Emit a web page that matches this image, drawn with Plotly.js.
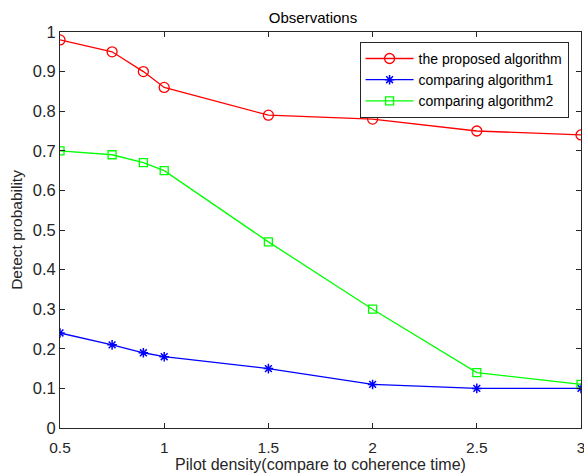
<!DOCTYPE html>
<html>
<head>
<meta charset="utf-8">
<script src="https://cdn.plot.ly/plotly-3.0.1.min.js"></script>
<style>html,body{margin:0;padding:0;background:#fff;}#chart{width:584px;height:473px;}</style>
</head>
<body>
<div id="chart"></div>
<script>
const pilotDensity = [0.5, 0.75, 0.9, 1, 1.5, 2, 2.5, 3];
const proposed = [0.98, 0.95, 0.90, 0.86, 0.79, 0.78, 0.75, 0.74];
const comparing1 = [0.24, 0.21, 0.19, 0.18, 0.15, 0.11, 0.10, 0.10];
const comparing2 = [0.70, 0.69, 0.67, 0.65, 0.47, 0.30, 0.14, 0.11];
const seriesNames = ['the proposed algorithm', 'comparing algorithm1', 'comparing algorithm2'];
const xTicks = [0.5, 1, 1.5, 2, 2.5, 3];
const yTicks = [0, 0.1, 0.2, 0.3, 0.4, 0.5, 0.6, 0.7, 0.8, 0.9, 1];

const font = '"Liberation Sans", Arial, Helvetica, sans-serif';
const axisColor = '#262626';

const traces = [
  {x: pilotDensity, y: proposed, name: seriesNames[0], mode: 'lines+markers',
   line: {color: '#ff0000', width: 1.3},
   marker: {symbol: 'circle-open', size: 10, color: '#ff0000', line: {width: 1.3}}},
  {x: pilotDensity, y: comparing1, name: seriesNames[1], mode: 'lines+markers',
   line: {color: '#0000ff', width: 1.3},
   marker: {symbol: 'asterisk-open', size: 8, color: '#0000ff', line: {width: 1.5, color: '#0000ff'}}},
  {x: pilotDensity, y: comparing2, name: seriesNames[2], mode: 'lines+markers',
   line: {color: '#00ff00', width: 1.3},
   marker: {symbol: 'square-open', size: 8, color: '#00ff00', line: {width: 1.3}}}
];

const layout = {
  width: 584, height: 473,
  margin: {l: 60, r: 3, t: 32, b: 45},
  paper_bgcolor: '#ffffff', plot_bgcolor: '#ffffff',
  font: {family: font, size: 16, color: axisColor},
  title: {text: 'Observations', font: {family: font, size: 15, color: '#000000'}, x: 0.536, xanchor: 'center', y: 0.962, yanchor: 'middle'},
  showlegend: true,
  legend: {x: 0.575, y: 0.975, xanchor: 'left', yanchor: 'top', bgcolor: '#ffffff',
    bordercolor: axisColor, borderwidth: 1, font: {family: font, size: 14, color: '#000000'},
    tracegroupgap: 0, itemwidth: 48},
  xaxis: {range: [0.5, 3], tickvals: xTicks, ticktext: xTicks.map(String), ticks: 'inside', ticklen: 5,
    tickcolor: axisColor, showline: true, linecolor: axisColor, linewidth: 1, mirror: 'ticks',
    showgrid: false, zeroline: false, ticklabeloverflow: 'allow', ticklabelstandoff: 5,
    tickfont: {family: font, size: 15.5, color: axisColor},
    title: {text: 'Pilot density(compare to coherence time)', font: {family: font, size: 16, color: axisColor}, standoff: 5}},
  yaxis: {range: [0, 1], tickvals: yTicks, ticktext: yTicks.map(String), ticks: 'inside', ticklen: 5,
    tickcolor: axisColor, showline: true, linecolor: axisColor, linewidth: 1, mirror: 'ticks',
    showgrid: false, zeroline: false, ticklabeloverflow: 'allow',
    tickfont: {family: font, size: 16.5, color: axisColor},
    title: {text: 'Detect probability', font: {family: font, size: 15.5, color: axisColor}, standoff: 6}}
};

Plotly.newPlot('chart', traces, layout, {displayModeBar: false, staticPlot: true});
</script>
</body>
</html>
